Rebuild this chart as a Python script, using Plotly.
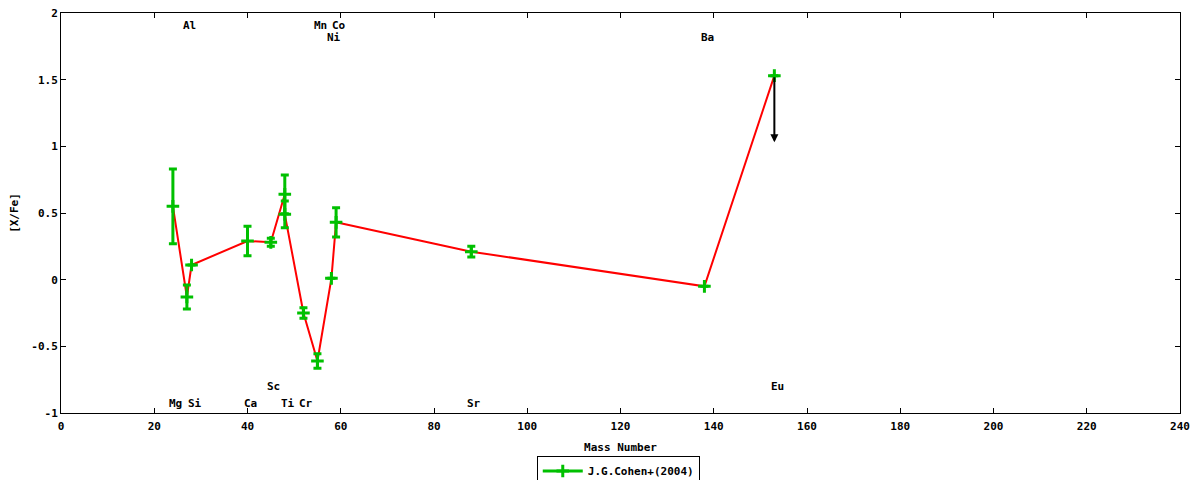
import plotly.graph_objects as go

# abundance data
elements = ['Mg', 'Al', 'Si', 'Ca', 'Sc', 'Ti', 'Ti', 'Cr', 'Mn', 'Ni', 'Co', 'Sr', 'Ba', 'Eu']
mass = [24, 27, 28, 40, 45, 48, 48, 52, 55, 58, 59, 88, 138, 153]
xfe = [0.55, -0.13, 0.11, 0.29, 0.28, 0.64, 0.49, -0.25, -0.61, 0.01, 0.43, 0.21, -0.05, 1.53]
xfe_err = [0.28, 0.09, 0.0, 0.11, 0.03, 0.145, 0.10, 0.04, 0.055, 0.0, 0.11, 0.04, 0.0, 0.0]

# upper limit (Eu)
limit_mass = 153
limit_val = 1.53
limit_len = 0.5

# element labels on the plot
label_text = ['Al', 'Mn', 'Co', 'Ni', 'Ba', 'Sc', 'Eu', 'Mg', 'Si', 'Ca', 'Ti', 'Cr', 'Sr']
label_mass = [27, 55, 59, 58, 138, 45, 153, 24, 28, 40, 48, 52, 88]
label_y = [1.91, 1.91, 1.91, 1.82, 1.82, -0.80, -0.80, -0.925, -0.925, -0.925, -0.925, -0.925, -0.925]

x_ticks = list(range(0, 241, 20))
y_ticks = [-1, -0.5, 0, 0.5, 1, 1.5, 2]
y_tick_text = ['-1', '-0.5', '0', '0.5', '1', '1.5', '2']

GREEN = '#00c000'
FONT = dict(family='DejaVu Sans Mono', size=11, color='black', weight='bold')

fig = go.Figure()

# red connecting line (no legend entry, drawn under the points)
fig.add_trace(go.Scatter(x=mass, y=xfe, mode='lines', line=dict(color='red', width=2),
                         showlegend=False, hoverinfo='skip'))

fig.add_trace(go.Scatter(x=mass, y=xfe, mode='markers', text=elements, showlegend=False,
                         marker=dict(symbol='cross-thin', size=9, line=dict(color=GREEN, width=3)),
                         error_y=dict(type='data', array=xfe_err, color=GREEN, thickness=3, width=4)))

# legend sample only
fig.add_trace(go.Scatter(x=[None], y=[None], mode='lines+markers', name='J.G.Cohen+(2004)',
                         line=dict(color=GREEN, width=3),
                         marker=dict(symbol='cross-thin', size=9, line=dict(color=GREEN, width=3))))

annotations = []
for t, m, yv in zip(label_text, label_mass, label_y):
    annotations.append(dict(x=m, y=yv, xref='x', yref='y', text=t, showarrow=False,
                            xshift=3, font=FONT))

# upper limit arrow
annotations.append(dict(x=limit_mass, y=limit_val - limit_len, ax=limit_mass, ay=limit_val,
                        xref='x', yref='y', axref='x', ayref='y', text='', showarrow=True,
                        arrowhead=2, arrowsize=0.8, arrowwidth=2, arrowcolor='black'))

# page body has an 8px default margin, so margins are shifted to compensate
fig.update_layout(
    width=1200, height=480,
    margin=dict(l=53, r=28, t=5, b=75, autoexpand=False),
    plot_bgcolor='white', paper_bgcolor='white',
    font=FONT,
    annotations=annotations,
    legend=dict(x=0.498, y=-0.145, xanchor='center', yanchor='middle', orientation='h',
                bordercolor='black', borderwidth=1, bgcolor='white', font=FONT,
                itemwidth=40, tracegroupgap=0),
    xaxis=dict(range=[0, 240], tickvals=x_ticks, ticks='inside', ticklen=5, tickcolor='black',
               showline=True, linecolor='black', linewidth=1, mirror='ticks', showgrid=False,
               zeroline=False, ticklabelstandoff=3, ticklabeloverflow='allow',
               title=dict(text='Mass Number', font=FONT, standoff=11)),
    yaxis=dict(range=[-1, 2], tickvals=y_ticks, ticktext=y_tick_text, ticks='inside', ticklen=5,
               tickcolor='black', showline=True, linecolor='black', linewidth=1, mirror='ticks',
               showgrid=False, zeroline=False, ticklabeloverflow='allow',
               title=dict(text='[X/Fe]', font=FONT, standoff=14)),
)

fig.write_html("out.html")
